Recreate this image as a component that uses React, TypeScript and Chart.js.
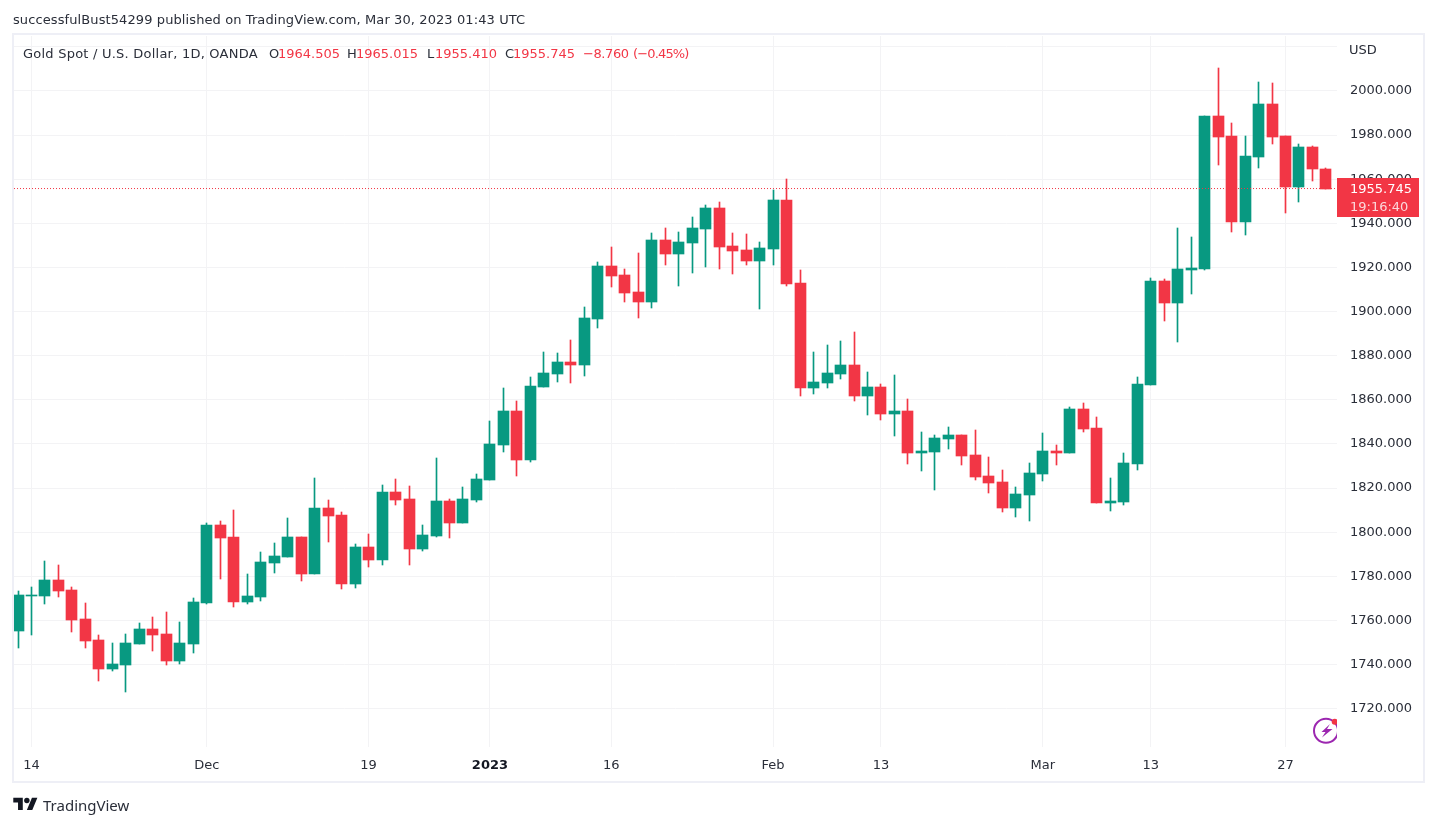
import React, { useEffect, useRef } from 'react';
import { Chart, registerables } from 'chart.js';

Chart.register(...registerables);

// Daily candles (Nov 11 2022 to Mar 30 2023)
const opens = [
  1755.1, 1771.0, 1771.0, 1778.2, 1773.7, 1760.5, 1751.0, 1737.9, 1739.7, 1749.2,
  1756.0, 1753.7, 1741.5, 1749.2, 1767.8, 1803.1, 1797.7, 1768.2, 1770.5, 1785.9,
  1788.6, 1797.7, 1780.9, 1810.8, 1807.7, 1776.4, 1793.2, 1787.3, 1818.1, 1814.9,
  1792.3, 1798.1, 1814.0, 1804.0, 1814.5, 1823.5, 1839.4, 1854.8, 1832.6, 1865.7,
  1871.6, 1877.0, 1875.7, 1896.5, 1920.5, 1916.5, 1908.8, 1904.2, 1932.3, 1926.0,
  1931.0, 1937.3, 1946.8, 1929.6, 1927.8, 1922.8, 1928.2, 1950.5, 1912.8, 1865.2,
  1867.5, 1871.6, 1875.7, 1861.6, 1865.7, 1853.4, 1854.8, 1835.8, 1836.2, 1842.1,
  1843.9, 1834.9, 1825.4, 1822.6, 1810.8, 1816.7, 1826.3, 1836.7, 1835.8, 1855.7,
  1847.1, 1813.1, 1813.6, 1830.8, 1866.6, 1913.7, 1903.8, 1918.7, 1919.2, 1988.5,
  1979.5, 1940.5, 1969.9, 1994.0, 1979.5, 1956.3, 1974.5, 1964.505,
];
const highs = [
  1773.2, 1775.0, 1786.8, 1785.0, 1775.0, 1767.8, 1753.3, 1749.6, 1753.7, 1758.7,
  1761.4, 1763.7, 1759.2, 1770.0, 1804.0, 1804.9, 1809.9, 1780.9, 1790.9, 1795.0,
  1806.3, 1797.7, 1824.4, 1814.5, 1809.0, 1794.5, 1799.0, 1821.3, 1824.0, 1820.8,
  1803.1, 1833.5, 1814.9, 1820.4, 1826.2, 1850.3, 1865.2, 1859.3, 1870.2, 1881.5,
  1881.1, 1887.0, 1901.9, 1922.3, 1929.1, 1919.2, 1926.4, 1935.5, 1937.8, 1935.9,
  1942.7, 1948.2, 1949.5, 1935.5, 1935.0, 1931.4, 1955.0, 1960.0, 1918.7, 1881.5,
  1884.7, 1886.5, 1890.6, 1872.5, 1867.0, 1871.1, 1860.2, 1845.3, 1843.9, 1847.6,
  1843.9, 1846.2, 1834.0, 1828.1, 1820.4, 1831.2, 1844.8, 1839.4, 1856.6, 1858.4,
  1852.1, 1824.4, 1835.8, 1870.2, 1915.1, 1914.6, 1937.8, 1933.7, 1988.5, 2010.3,
  1985.4, 1979.5, 2003.9, 2003.5, 1979.5, 1975.8, 1974.9, 1965.015,
];
const lows = [
  1747.4, 1753.3, 1767.3, 1770.5, 1754.6, 1747.4, 1732.4, 1737.0, 1727.4, 1749.2,
  1746.0, 1739.7, 1740.1, 1745.1, 1767.6, 1778.7, 1766.0, 1767.3, 1768.7, 1781.4,
  1788.6, 1777.7, 1780.9, 1795.4, 1774.1, 1774.6, 1784.1, 1785.0, 1812.2, 1785.0,
  1791.5, 1797.8, 1797.2, 1804.0, 1813.6, 1823.5, 1836.2, 1825.3, 1831.7, 1865.7,
  1868.0, 1867.5, 1870.7, 1892.4, 1911.0, 1904.2, 1897.0, 1901.5, 1921.0, 1911.5,
  1917.4, 1920.1, 1919.2, 1916.9, 1921.0, 1901.0, 1921.0, 1911.5, 1861.6, 1862.5,
  1865.2, 1869.3, 1859.3, 1853.0, 1850.7, 1843.5, 1830.8, 1827.6, 1819.0, 1837.6,
  1830.3, 1823.5, 1817.6, 1809.0, 1806.8, 1805.0, 1823.1, 1830.3, 1835.8, 1845.3,
  1813.1, 1809.5, 1812.2, 1828.1, 1866.6, 1895.6, 1886.1, 1907.9, 1918.7, 1966.3,
  1936.0, 1934.6, 1965.0, 1975.8, 1944.6, 1949.5, 1959.1, 1955.41,
];
const closes = [
  1771.4, 1771.4, 1778.2, 1773.2, 1760.1, 1750.5, 1737.9, 1740.1, 1749.6, 1756.0,
  1753.3, 1741.5, 1749.6, 1768.2, 1803.1, 1797.2, 1768.2, 1771.0, 1786.4, 1789.1,
  1797.7, 1780.9, 1810.8, 1807.2, 1776.4, 1793.2, 1787.3, 1818.1, 1814.5, 1792.3,
  1798.6, 1814.0, 1804.0, 1814.9, 1824.0, 1839.8, 1854.8, 1832.6, 1866.1, 1872.0,
  1877.0, 1875.7, 1897.0, 1920.5, 1916.0, 1908.3, 1904.2, 1932.3, 1926.0, 1931.4,
  1937.8, 1946.8, 1929.1, 1927.3, 1922.8, 1928.7, 1950.5, 1912.4, 1865.2, 1868.0,
  1872.0, 1875.7, 1861.6, 1865.7, 1853.4, 1854.8, 1835.8, 1836.7, 1842.6, 1843.9,
  1834.4, 1824.9, 1822.2, 1810.8, 1817.2, 1826.7, 1836.7, 1835.8, 1855.7, 1846.7,
  1813.1, 1814.0, 1831.2, 1867.1, 1913.7, 1903.8, 1919.2, 1919.6, 1988.5, 1979.0,
  1940.5, 1970.4, 1994.0, 1979.0, 1956.3, 1974.5, 1964.5, 1955.745,
];

const timeTickIndex = [1, 14, 26, 35, 44, 56, 64, 76, 84, 94];
const timeTickLabels = ['14', 'Dec', '19', '2023', '16', 'Feb', '13', 'Mar', '13', '27'];
const priceTicks = [
  1720, 1740, 1760, 1780, 1800, 1820, 1840, 1860, 1880, 1900, 1920, 1940, 1960, 1980, 2000, 2020,
];

const UP = '#089981';
const DOWN = '#F23645';
const GRID = '#F3F3F5';
const TEXT = '#2A2E39';
const FONT = '"DejaVu Sans", sans-serif';

const lastClose = closes[closes.length - 1];
const candleColors = closes.map((c, i) => (c >= opens[i] ? UP : DOWN));

// keep candles crisp, as the original renders them on whole pixels
const snapBars = {
  id: 'snapBars',
  beforeDatasetsDraw(chart: any) {
    chart.getSortedVisibleDatasetMetas().forEach((meta: any) => {
      if (meta.type !== 'bar') return;
      meta.data.forEach((bar: any) => {
        bar.x = Math.floor(bar.x) + 0.5;
        const top = Math.round(Math.min(bar.y, bar.base));
        let bottom = Math.round(Math.max(bar.y, bar.base));
        if (bottom === top) bottom = top + 1;
        bar.y = top;
        bar.base = bottom;
        bar.height = bottom - top;
      });
    });
  },
};

const textAt = (left: number, top: number, color = TEXT): React.CSSProperties => ({
  position: 'absolute',
  left,
  top,
  color,
  font: `13px ${FONT}`,
  lineHeight: '16px',
  whiteSpace: 'nowrap',
});

export default function App() {
  const canvasRef = useRef<HTMLCanvasElement | null>(null);

  useEffect(() => {
    if (!canvasRef.current) return;
    const xMin = -0.298;
    const xMax = 97.82;

    const chart = new Chart(canvasRef.current, {
      type: 'bar',
      data: {
        datasets: [
          {
            type: 'line',
            data: [
              { x: xMin, y: lastClose },
              { x: xMax, y: lastClose },
            ],
            borderColor: DOWN,
            borderWidth: 1,
            borderDash: [1, 2],
            pointRadius: 0,
            order: 0,
          },
          {
            data: opens.map((o, i) => ({ x: i, y: [o, closes[i]] })),
            backgroundColor: candleColors,
            barThickness: 11,
            grouped: false,
            order: 1,
          },
          {
            data: lows.map((l, i) => ({ x: i, y: [l, highs[i]] })),
            backgroundColor: candleColors,
            barThickness: 1,
            grouped: false,
            order: 2,
          },
        ] as any,
      },
      options: {
        responsive: false,
        animation: false,
        layout: { padding: { left: 14, right: 12, top: 36, bottom: 45 } },
        plugins: {
          legend: { display: false },
          tooltip: { enabled: false },
        },
        scales: {
          x: {
            type: 'linear',
            offset: false,
            min: xMin,
            max: xMax,
            border: { display: false },
            grid: { color: GRID, lineWidth: 1, drawTicks: false, offset: false },
            afterBuildTicks: (axis: any) => {
              axis.ticks = timeTickIndex.map(value => ({ value }));
            },
            afterFit: (axis: any) => {
              axis.height = 34;
            },
            ticks: {
              autoSkip: false,
              maxRotation: 0,
              padding: 11,
              color: (ctx: any) => (ctx.tick && ctx.tick.value === 35 ? '#131722' : TEXT),
              font: (ctx: any) => ({
                family: FONT,
                size: 13,
                weight: ctx.tick && ctx.tick.value === 35 ? 'bold' : 'normal',
              }),
              callback: (value: any) => timeTickLabels[timeTickIndex.indexOf(value)],
            },
          },
          y: {
            position: 'right',
            min: 1702.6,
            max: 2024.89,
            border: { display: false },
            grid: { color: GRID, lineWidth: 1, drawTicks: false },
            afterBuildTicks: (axis: any) => {
              axis.ticks = priceTicks.map(value => ({ value }));
            },
            afterFit: (axis: any) => {
              axis.width = 88;
            },
            ticks: {
              padding: 13,
              color: TEXT,
              font: { family: FONT, size: 13 },
              callback: (value: any) => (value === 2020 ? '' : Number(value).toFixed(3)),
            },
          },
        },
      },
      plugins: [snapBars],
    });

    return () => chart.destroy();
  }, []);

  return (
    <div style={{ position: 'absolute', left: 0, top: 0, width: 1437, height: 826, background: '#fff', overflow: 'hidden' }}>
      <canvas ref={canvasRef} width={1437} height={826} style={{ position: 'absolute', left: 0, top: 0 }} />
      <div style={{ position: 'absolute', left: 12, top: 33, width: 1413, height: 750, boxSizing: 'border-box', border: `2px solid #EEEFF6` }} />

      <div style={{ ...textAt(13, 12), letterSpacing: 0.1 }}>successfulBust54299 published on TradingView.com, Mar 30, 2023 01:43 UTC</div>

      <div style={{ ...textAt(23, 46), letterSpacing: 0.23 }}>Gold Spot / U.S. Dollar, 1D, OANDA</div>
      <div style={textAt(269, 46)}>O</div>
      <div style={textAt(278, 46, DOWN)}>1964.505</div>
      <div style={textAt(347, 46)}>H</div>
      <div style={textAt(356, 46, DOWN)}>1965.015</div>
      <div style={textAt(427, 46)}>L</div>
      <div style={textAt(435, 46, DOWN)}>1955.410</div>
      <div style={textAt(505, 46)}>C</div>
      <div style={textAt(513, 46, DOWN)}>1955.745</div>
      <div style={{ ...textAt(583, 46, DOWN), letterSpacing: -0.4 }}>−8.760</div>
      <div style={{ ...textAt(633, 46, DOWN), letterSpacing: -0.85 }}>(−0.45%)</div>

      <div style={textAt(1349, 42)}>USD</div>

      <div style={{ position: 'absolute', left: 1337, top: 178, width: 82, height: 39, background: DOWN }} />
      <div style={textAt(1350, 181, '#FFFFFF')}>1955.745</div>
      <div style={textAt(1350, 199, '#FBD7DA')}>19:16:40</div>

      <svg style={{ position: 'absolute', left: 1310, top: 714 }} width={27} height={33} viewBox="0 0 27 33">
        <circle cx={16} cy={16.7} r={12} fill="none" stroke="#9C27B0" strokeWidth={2} />
        <path d="M20 10 L11.5 18 L15.5 18 L12 23.5 L22.5 15 L17 15 Z" fill="#9C27B0" />
        <circle cx={24.7} cy={7.7} r={3} fill={DOWN} />
      </svg>

      <svg style={{ position: 'absolute', left: 13, top: 795 }} width={25} height={19} viewBox="0 0 36 28">
        <path d="M14 22H7V11H0V4h14v18zM28 22h-8l7.5-18h8L28 22z" fill="#131722" />
        <circle cx={20} cy={8} r={4} fill="#131722" />
      </svg>
      <div style={{ ...textAt(43, 796, '#2A2E39'), font: `15px "Noto Sans", sans-serif`, lineHeight: '18px' }}>TradingView</div>
    </div>
  );
}
